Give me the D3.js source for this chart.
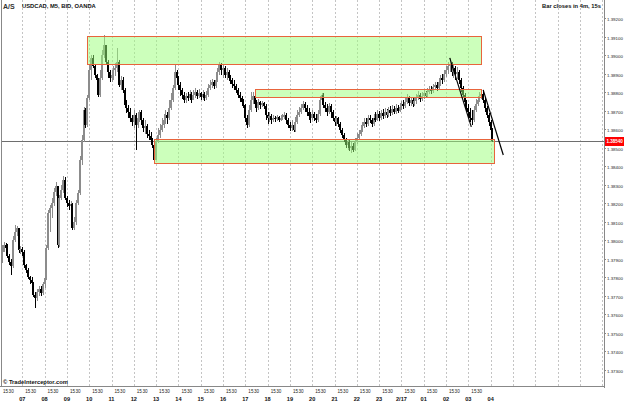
<!DOCTYPE html>
<html><head><meta charset="utf-8">
<script src="https://cdn.jsdelivr.net/npm/d3@7"></script>
<style>body{margin:0;background:#fff}svg{display:block}text{font-family:"Liberation Sans",Arial,sans-serif}</style>
</head><body><svg id="c" width="625" height="404"></svg>
<script>
// ---- data ----
const symbolTitle = "USDCAD, M5, BID, OANDA";
const barStatus = "Bar closes in 4m, 15s";
const copyright = "\u00A9 TradeInterceptor.com";
const firstBarTime = "2015-02-16T06:05:00Z";
const barMinutes = 5;
const firstOpen = 1.37907;
const closes = [1.37939,1.37977,1.37961,1.37918,1.37885,1.37864,1.38004,1.38047,1.38069,1.37950,
1.37955,1.37939,1.37869,1.37842,1.37804,1.37788,1.37772,1.37707,1.37691,1.37723,
1.37739,1.37718,1.37766,1.37799,1.37961,1.38150,1.38177,1.38204,1.38263,1.38296,
1.37977,1.38231,1.38274,1.38328,1.38231,1.38204,1.38188,1.38198,1.38069,1.38101,
1.38204,1.38258,1.38436,1.38544,1.38706,1.38625,1.38771,1.38922,1.38987,1.38944,
1.38895,1.38868,1.38787,1.38879,1.39003,1.39057,1.38965,1.38911,1.38879,1.38895,
1.38922,1.38933,1.38965,1.38841,1.38868,1.38814,1.38733,1.38717,1.38695,1.38663,
1.38641,1.38679,1.38625,1.38663,1.38695,1.38652,1.38609,1.38620,1.38576,1.38566,
1.38544,1.38517,1.38436,1.38533,1.38571,1.38598,1.38625,1.38652,1.38679,1.38663,
1.38717,1.38760,1.38825,1.38911,1.38879,1.38841,1.38814,1.38787,1.38760,1.38782,
1.38771,1.38792,1.38760,1.38787,1.38803,1.38782,1.38798,1.38776,1.38792,1.38771,
1.38787,1.38825,1.38841,1.38857,1.38836,1.38868,1.38911,1.38954,1.38922,1.38933,
1.38895,1.38911,1.38879,1.38868,1.38846,1.38836,1.38814,1.38787,1.38771,1.38749,
1.38733,1.38663,1.38625,1.38706,1.38760,1.38782,1.38738,1.38717,1.38749,1.38733,
1.38744,1.38728,1.38679,1.38663,1.38674,1.38652,1.38663,1.38657,1.38668,1.38652,
1.38663,1.38668,1.38679,1.38652,1.38625,1.38609,1.38625,1.38598,1.38641,1.38679,
1.38695,1.38717,1.38738,1.38717,1.38695,1.38674,1.38663,1.38684,1.38663,1.38652,
1.38684,1.38760,1.38787,1.38733,1.38717,1.38695,1.38728,1.38695,1.38663,1.38641,
1.38663,1.38630,1.38598,1.38571,1.38544,1.38517,1.38533,1.38501,1.38512,1.38490,
1.38533,1.38555,1.38576,1.38598,1.38620,1.38641,1.38630,1.38663,1.38652,1.38630,
1.38663,1.38652,1.38684,1.38663,1.38690,1.38674,1.38695,1.38679,1.38706,1.38690,
1.38711,1.38695,1.38717,1.38701,1.38722,1.38738,1.38728,1.38749,1.38771,1.38744,
1.38760,1.38738,1.38755,1.38776,1.38787,1.38765,1.38782,1.38798,1.38782,1.38803,
1.38819,1.38809,1.38830,1.38841,1.38825,1.38857,1.38879,1.38868,1.38900,1.38922,
1.38944,1.38954,1.38911,1.38933,1.38900,1.38911,1.38868,1.38825,1.38787,1.38749,
1.38717,1.38695,1.38663,1.38652,1.38706,1.38738,1.38760,1.38782,1.38792,1.38760,
1.38717,1.38679,1.38641,1.38598,1.38540];
const highs = [1.37977,1.37993,1.37988,1.37982,1.37928,1.37901,1.38026,1.38085,1.38080,1.38069,
1.37972,1.37966,1.37950,1.37874,1.37853,1.37810,1.37804,1.37777,1.37723,1.37739,
1.37756,1.37756,1.37777,1.37810,1.37977,1.38166,1.38193,1.38231,1.38285,1.38317,
1.38285,1.38247,1.38301,1.38350,1.38344,1.38242,1.38220,1.38215,1.38204,1.38128,
1.38220,1.38274,1.38458,1.38571,1.38722,1.38717,1.38787,1.38954,1.39003,1.39003,
1.38954,1.38900,1.38879,1.38922,1.39030,1.39111,1.39057,1.38976,1.38922,1.38922,
1.38944,1.38960,1.39041,1.38976,1.38890,1.38884,1.38825,1.38760,1.38733,1.38717,
1.38679,1.38706,1.38690,1.38684,1.38706,1.38706,1.38663,1.38652,1.38630,1.38598,
1.38587,1.38555,1.38544,1.38555,1.38609,1.38630,1.38663,1.38684,1.38706,1.38695,
1.38760,1.38798,1.38841,1.38949,1.38922,1.38890,1.38857,1.38825,1.38803,1.38798,
1.38803,1.38814,1.38803,1.38814,1.38825,1.38814,1.38819,1.38803,1.38814,1.38803,
1.38809,1.38846,1.38868,1.38873,1.38868,1.38884,1.38933,1.38965,1.38960,1.38949,
1.38944,1.38933,1.38922,1.38895,1.38879,1.38868,1.38846,1.38825,1.38803,1.38782,
1.38765,1.38738,1.38679,1.38733,1.38803,1.38803,1.38798,1.38760,1.38765,1.38755,
1.38755,1.38749,1.38738,1.38695,1.38695,1.38684,1.38679,1.38674,1.38679,1.38674,
1.38679,1.38684,1.38695,1.38690,1.38663,1.38641,1.38652,1.38636,1.38668,1.38706,
1.38722,1.38738,1.38755,1.38749,1.38733,1.38717,1.38695,1.38706,1.38695,1.38684,
1.38706,1.38782,1.38798,1.38798,1.38749,1.38738,1.38744,1.38738,1.38706,1.38674,
1.38674,1.38668,1.38641,1.38609,1.38582,1.38555,1.38549,1.38544,1.38533,1.38528,
1.38555,1.38582,1.38598,1.38625,1.38641,1.38663,1.38663,1.38679,1.38679,1.38663,
1.38684,1.38695,1.38706,1.38701,1.38706,1.38711,1.38717,1.38711,1.38722,1.38728,
1.38733,1.38728,1.38738,1.38733,1.38744,1.38755,1.38760,1.38771,1.38792,1.38782,
1.38776,1.38771,1.38776,1.38792,1.38809,1.38798,1.38803,1.38814,1.38809,1.38825,
1.38836,1.38836,1.38846,1.38857,1.38857,1.38879,1.38895,1.38900,1.38922,1.38944,
1.38965,1.38987,1.38965,1.38954,1.38944,1.38938,1.38922,1.38879,1.38836,1.38798,
1.38760,1.38738,1.38717,1.38706,1.38728,1.38765,1.38782,1.38803,1.38814,1.38814,
1.38771,1.38728,1.38690,1.38652,1.38609];
const lows = [1.37880,1.37939,1.37950,1.37907,1.37869,1.37815,1.37853,1.37993,1.38026,1.37934,
1.37928,1.37918,1.37853,1.37826,1.37793,1.37766,1.37745,1.37696,1.37637,1.37675,
1.37702,1.37702,1.37707,1.37745,1.37788,1.37950,1.38047,1.38123,1.38188,1.38242,
1.37961,1.37966,1.38220,1.38258,1.38220,1.38182,1.38166,1.38155,1.38058,1.38058,
1.38085,1.38193,1.38247,1.38409,1.38533,1.38609,1.38614,1.38760,1.38868,1.38933,
1.38879,1.38841,1.38776,1.38776,1.38868,1.38987,1.38954,1.38879,1.38857,1.38857,
1.38868,1.38890,1.38911,1.38830,1.38814,1.38798,1.38717,1.38690,1.38663,1.38641,
1.38620,1.38609,1.38490,1.38609,1.38641,1.38625,1.38587,1.38576,1.38555,1.38544,
1.38522,1.38501,1.38420,1.38436,1.38528,1.38555,1.38587,1.38609,1.38630,1.38630,
1.38652,1.38706,1.38749,1.38814,1.38841,1.38814,1.38782,1.38765,1.38744,1.38744,
1.38755,1.38760,1.38744,1.38760,1.38771,1.38765,1.38771,1.38760,1.38760,1.38755,
1.38760,1.38776,1.38814,1.38825,1.38819,1.38825,1.38857,1.38895,1.38895,1.38879,
1.38879,1.38868,1.38863,1.38846,1.38825,1.38814,1.38798,1.38771,1.38749,1.38728,
1.38717,1.38641,1.38609,1.38614,1.38695,1.38738,1.38717,1.38695,1.38706,1.38711,
1.38722,1.38711,1.38652,1.38630,1.38641,1.38630,1.38641,1.38641,1.38647,1.38641,
1.38647,1.38652,1.38657,1.38630,1.38609,1.38593,1.38593,1.38587,1.38587,1.38630,
1.38668,1.38684,1.38706,1.38695,1.38674,1.38652,1.38636,1.38652,1.38647,1.38636,
1.38641,1.38674,1.38738,1.38717,1.38695,1.38674,1.38684,1.38663,1.38647,1.38620,
1.38620,1.38614,1.38582,1.38555,1.38533,1.38501,1.38490,1.38485,1.38474,1.38479,
1.38485,1.38522,1.38544,1.38566,1.38587,1.38609,1.38614,1.38620,1.38636,1.38614,
1.38620,1.38641,1.38647,1.38647,1.38652,1.38657,1.38663,1.38663,1.38668,1.38674,
1.38679,1.38684,1.38684,1.38690,1.38695,1.38706,1.38711,1.38717,1.38738,1.38728,
1.38728,1.38722,1.38728,1.38738,1.38760,1.38749,1.38755,1.38765,1.38771,1.38776,
1.38792,1.38792,1.38798,1.38814,1.38809,1.38814,1.38836,1.38846,1.38857,1.38884,
1.38900,1.38911,1.38890,1.38879,1.38868,1.38873,1.38846,1.38803,1.38771,1.38728,
1.38695,1.38663,1.38641,1.38625,1.38641,1.38695,1.38728,1.38749,1.38765,1.38744,
1.38695,1.38663,1.38620,1.38576,1.38533];
const priceTicks = [1.373,1.374,1.375,1.376,1.377,1.378,1.379,1.380,1.381,1.382,1.383,1.384,1.385,1.386,1.387,1.388,1.389,1.390,1.391,1.392];
const lastPrice = 1.38540;
const hourLabels = ["07","08","09","10","11","12","13","14","15","16","17","18","19","20","21","22","23","2/17","01","02","03","04"];
const minuteLabels = ["15","30"];
// zones (support/resistance boxes)
const zoneStart = ["2015-02-16T09:55Z","2015-02-16T17:25Z","2015-02-16T12:55Z"];
const zoneEnd   = ["2015-02-17T03:35Z","2015-02-17T03:35Z","2015-02-17T04:10Z"];
const zoneHigh  = [1.39105,1.38817,1.38549];
const zoneLow   = [1.38953,1.38778,1.38420];
// trend lines
const lineStart = ["2015-02-17T02:10Z","2015-02-17T03:40Z"];
const lineEnd   = ["2015-02-17T03:08Z","2015-02-17T04:34Z"];
const lineStartPrice = [1.38987,1.38814];
const lineEndPrice   = [1.38614,1.38462];

// ---- chart ----
const W = 625, H = 404, plotR = 604, plotB = 387;
const svg = d3.select("#c");
svg.append("rect").attr("width",W).attr("height",H).attr("fill","#fff");

const t0 = new Date("2015-02-16T06:00:00Z");
const t1 = new Date(t0.getTime() + (27*60+5)*60000);
const x = d3.scaleUtc().domain([t0,t1]).range([0, plotR]);
const y = d3.scaleLinear().domain([1.37208, 1.39300]).range([plotB, 0]);

const firstT = new Date(firstBarTime).getTime();
const bars = closes.map((c,i)=>{
  const o = i===0 ? firstOpen : closes[i-1];
  return {t:new Date(firstT + i*barMinutes*60000), o, c,
          h:Math.max(highs[i],o,c), l:Math.min(lows[i],o,c)};
});

// hour gridlines
const hours = d3.utcHour.range(new Date("2015-02-16T07:00Z"), new Date("2015-02-17T09:30Z"));
svg.append("g").selectAll("line").data(hours).join("line")
  .attr("x1",d=>Math.round(x(d))+0.5).attr("x2",d=>Math.round(x(d))+0.5)
  .attr("y1",0).attr("y2",plotB)
  .attr("stroke","#c4c4c4").attr("stroke-dasharray","2,2");

// price line
svg.append("line").attr("x1",2).attr("x2",plotR)
  .attr("y1",Math.round(y(lastPrice))+0.5).attr("y2",Math.round(y(lastPrice))+0.5)
  .attr("stroke","#6e6e6e");

// candles
const cg = svg.append("g");
bars.forEach(b=>{
  const cx = Math.round(x(b.t));
  const col = b.c >= b.o ? "#8c8c8c" : "#000";
  cg.append("rect").attr("x",cx).attr("width",1)
    .attr("y",Math.round(y(b.h))).attr("height",Math.max(1,Math.round(y(b.l))-Math.round(y(b.h))))
    .attr("fill",col);
  const top = Math.round(y(Math.max(b.o,b.c))), bot = Math.round(y(Math.min(b.o,b.c)));
  cg.append("rect").attr("x",cx-1).attr("width",2)
    .attr("y",top).attr("height",Math.max(1,bot-top)).attr("fill",col);
});

// zones
const zg = svg.append("g");
zoneStart.forEach((s,i)=>{
  const x0 = Math.round(x(new Date(s)))+0.5, x1 = Math.round(x(new Date(zoneEnd[i])))+0.5;
  const y0 = Math.round(y(zoneHigh[i]))+0.5, y1 = Math.round(y(zoneLow[i]))+0.5;
  zg.append("rect").attr("x",x0).attr("y",y0).attr("width",x1-x0).attr("height",y1-y0)
    .attr("fill","#99ff77").attr("fill-opacity",0.5)
    .attr("stroke","#e8643c").attr("stroke-width",1);
});

// trend lines
lineStart.forEach((s,i)=>{
  svg.append("line").attr("x1",x(new Date(s))).attr("y1",y(lineStartPrice[i]))
    .attr("x2",x(new Date(lineEnd[i]))).attr("y2",y(lineEndPrice[i]))
    .attr("stroke","#000").attr("stroke-width",1.2);
});

// axes frame
svg.append("line").attr("x1",1.5).attr("x2",1.5).attr("y1",0).attr("y2",plotB).attr("stroke","#888");
svg.append("line").attr("x1",plotR+0.5).attr("x2",plotR+0.5).attr("y1",0).attr("y2",plotB+1).attr("stroke","#888");
svg.append("line").attr("x1",0).attr("x2",plotR+1).attr("y1",plotB-0.5).attr("y2",plotB-0.5).attr("stroke","#888");

// right price axis
const ya = svg.append("g");
priceTicks.forEach(p=>{
  const yy = Math.round(y(p))+0.5;
  ya.append("line").attr("x1",plotR).attr("x2",plotR+2).attr("y1",yy).attr("y2",yy).attr("stroke","#888");
  ya.append("text").attr("x",plotR+3).attr("y",yy+2).attr("font-size",4.4).attr("fill","#222")
    .text(p.toFixed(5));
});
const ly = Math.round(y(lastPrice));
ya.append("rect").attr("x",plotR+1).attr("y",ly-4).attr("width",19).attr("height",9).attr("fill","#ff0000");
ya.append("text").attr("x",plotR+2.5).attr("y",ly+2).attr("font-size",4.5).attr("font-weight","bold").attr("fill","#fff")
  .text(lastPrice.toFixed(5));

// bottom time axis
const xa = svg.append("g");
const labelHours = d3.utcHour.range(new Date("2015-02-16T06:00Z"), new Date("2015-02-17T04:30Z"));
labelHours.forEach((h,i)=>{
  if(i < labelHours.length-1) minuteLabels.forEach(m=>{
    const t = new Date(h.getTime()+(+m)*60000);
    xa.append("text").attr("x",x(t)).attr("y",393).attr("text-anchor","middle")
      .attr("font-size",4.6).attr("fill","#222").text(m);
  });
  if(i>0) xa.append("text").attr("x",x(h)).attr("y",401).attr("text-anchor","middle")
      .attr("font-size",5.6).attr("font-weight","bold").attr("fill","#111").text(hourLabels[i-1]);
});

// header texts
svg.append("text").attr("x",3).attr("y",9).attr("font-size",7).attr("font-weight","bold").attr("fill","#333").text("A/S");
svg.append("text").attr("x",22).attr("y",8).attr("font-size",5.8).attr("font-weight","bold").attr("fill","#111").text(symbolTitle);
svg.append("text").attr("x",601).attr("y",8).attr("text-anchor","end").attr("font-size",5.8).attr("font-weight","bold").attr("fill","#111").text(barStatus);
svg.append("text").attr("x",3).attr("y",384).attr("font-size",5.8).attr("font-weight","bold").attr("fill","#111").text(copyright);
</script></body></html>
